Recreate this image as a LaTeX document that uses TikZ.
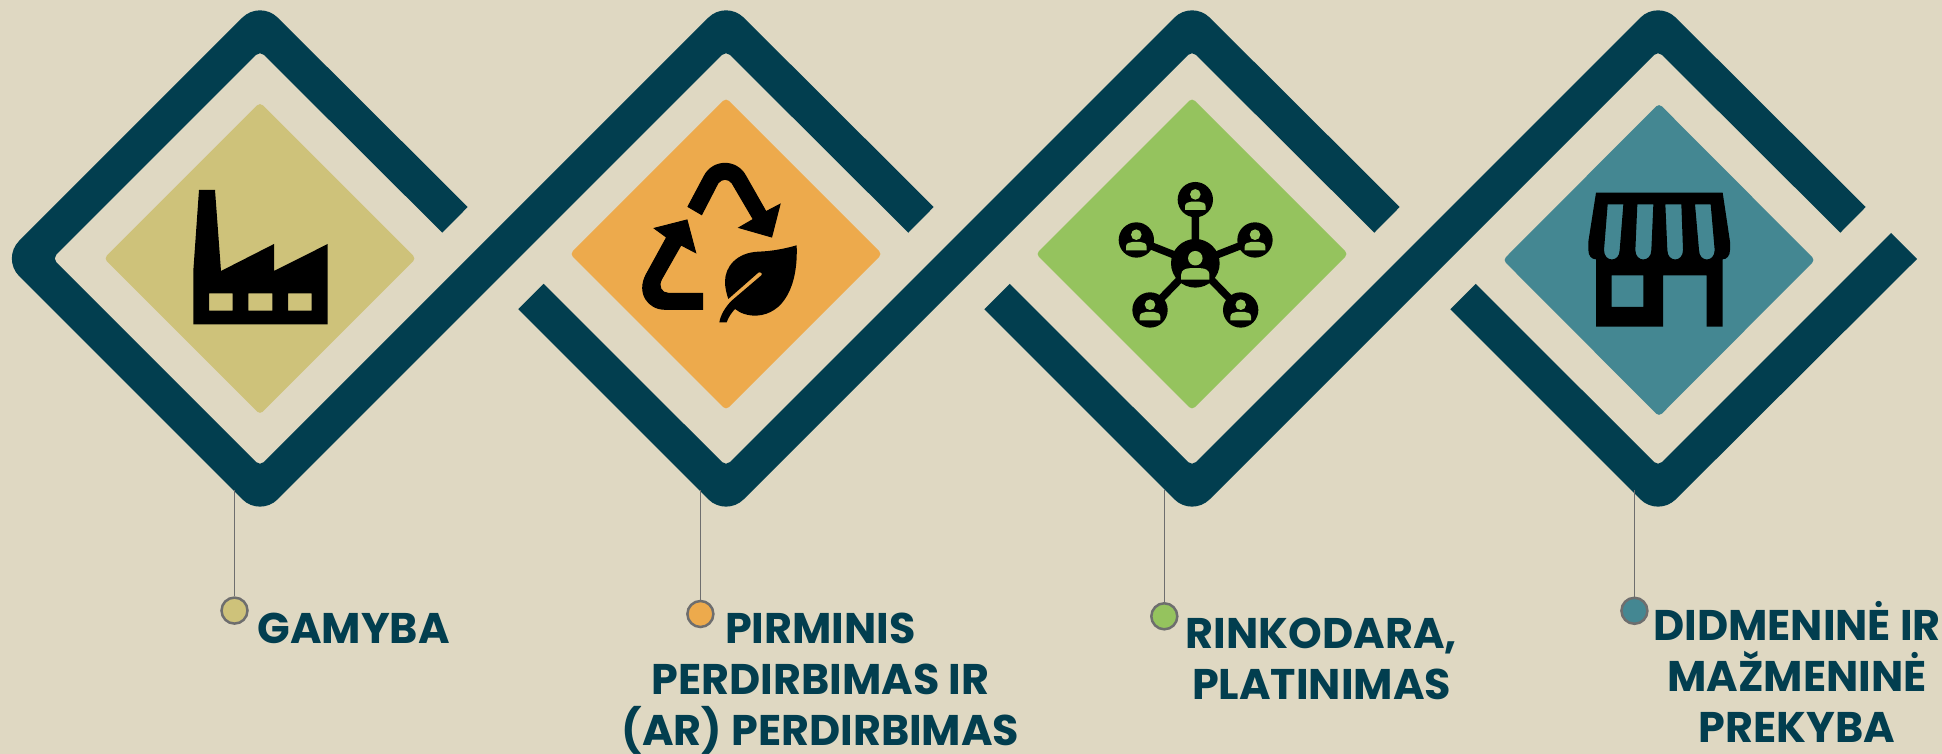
\documentclass[tikz,border=0pt]{standalone}
\usepackage{fontspec}
\setmainfont{Poppins}
\usepackage{tikz}
\usetikzlibrary{positioning}
\definecolor{sandbg}{HTML}{DFD8C2}
\definecolor{ribbonblue}{HTML}{023E4F}
\definecolor{cellolive}{HTML}{CEC27A}
\definecolor{cellorange}{HTML}{EDAA4C}
\definecolor{cellgreen}{HTML}{95C35E}
\definecolor{cellteal}{HTML}{448792}
\definecolor{leadgray}{HTML}{6E6E6E}
\tikzset{
	ribbon/.style={fill=ribbonblue},
	roundout/.style={rounded corners=2.5mm},
	roundin/.style={rounded corners=0.55mm},
	corecell/.style={rounded corners=0.4mm},
	leadline/.style={draw=leadgray, line width=0.14mm},
	leaddot/.style={circle, draw=leadgray, line width=0.25mm, minimum size=2.6mm, inner sep=0pt},
	steplabel/.style={align=center, text=ribbonblue, inner sep=0pt, anchor=north, font=\fontsize{12.2}{14.5}\selectfont\bfseries}
}
% Persona del icono de red
\newcommand{\netuser}[3]{
	\begin{scope}[shift={(#1,#2)},scale=#3]
		\fill[cellgreen] (0,-5.3) circle (5.3);
		\fill[cellgreen] (-10.3,10.3) -- (-10.3,6.5) .. controls (-10.3,3.5) and (-7,2) .. (-4,2) -- (4,2) .. controls (7,2) and (10.3,3.5) .. (10.3,6.5) -- (10.3,10.3) -- cycle;
	\end{scope}
}
\begin{document}
\begin{tikzpicture}[x=0.1mm,y=-0.1mm]
	\useasboundingbox (0,0) rectangle (1942,754);
	\fill[sandbg] (0,0) rectangle (1942,754);

	% Cintas
	\path[ribbon] (467.7,207) [roundout] -- (260,0) -- (1.5,258.5) -- (260,517) [roundin] -- (726,51) [sharp corners] -- (908.3,232.7) -- (933.7,207) [roundout] -- (726,0) [roundin] -- (260,466) -- (52.5,258.5) -- (260,51) [sharp corners] -- (442.3,232.7) -- cycle;
	\path[ribbon] (543.7,283.8) [roundin] -- (726,466) [roundout] -- (1192,0) [sharp corners] -- (1399.7,207) -- (1374.3,232.7) [roundin] -- (1192,51) [roundout] -- (726,517) [sharp corners] -- (518.3,309.2) -- cycle;
	\path[ribbon] (1009.7,283.8) [roundin] -- (1192,466) [roundout] -- (1658,0) [sharp corners] -- (1865.7,207) -- (1840.3,232.7) [roundin] -- (1658,51) [roundout] -- (1192,517) [sharp corners] -- (984.3,309.2) -- cycle;
	\path[ribbon] (1475.7,283.8) [roundin] -- (1658,466) [sharp corners] -- (1891,233) -- (1917,259) [roundout] -- (1658,517) [sharp corners] -- (1450.3,309.2) -- cycle;

	% Rombos
	\fill[cellolive, corecell] (260,102.5) -- (416,258.5) -- (260,414.5) -- (104,258.5) -- cycle;
	\fill[cellorange, corecell] (726,98) -- (882,254) -- (726,410) -- (570,254) -- cycle;
	\fill[cellgreen, corecell] (1192,98) -- (1348,254) -- (1192,410) -- (1036,254) -- cycle;
	\fill[cellteal, corecell] (1659,103.5) -- (1815,260) -- (1659,416.5) -- (1503,260) -- cycle;

	% Fabrica
	\fill[black, even odd rule] (199,190) -- (215,190) -- (221,271) -- (274,244) -- (274,271) -- (327.7,244) -- (327.7,324.5) -- (193.3,324.5) -- (193.3,271) -- cycle
		(209,293.3) rectangle (232.7,310.7) (248.3,293.3) rectangle (272.3,310.7) (288,293.3) rectangle (311.7,310.7);

	% Reciclaje
	\begin{scope}[shift={(600,130)},scale=0.3333]
		\filldraw[black, line width=0.1mm] (264,230) -- (314,136) .. controls (326,114) and (350,100) .. (375,100) .. controls (400,100) and (424,114) .. (436,136) -- (498,245) -- (540,223) -- (515,321) -- (417,293) -- (460,268) -- (396,159) .. controls (391,152) and (383,148) .. (375,148) .. controls (367,148) and (360,152) .. (354,159) -- (305,254) -- cycle;
		\filldraw[black, line width=0.1mm] (163,295) -- (261,270) -- (287,368) -- (243,345) -- (185,447) .. controls (172,470) and (185,490) .. (205,490) -- (308,490) -- (308,538) -- (195,538) .. controls (145,538) and (110,490) .. (138,435) -- (200,322) -- cycle;
		\fill[black] (590,346) .. controls (555,356) and (515,364) .. (475,365) .. controls (410,368) and (375,410) .. (375,455) .. controls (375,475) and (380,492) .. (385,507) -- (475,428) .. controls (482,424) and (490,432) .. (483,437) -- (395,512) .. controls (375,532) and (362,555) .. (358,577) -- (380,577) .. controls (385,562) and (395,548) .. (405,537) .. controls (420,550) and (445,558) .. (470,557) .. controls (550,552) and (595,470) .. (590,346) -- cycle;
	\end{scope}

	% Red
	\begin{scope}[shift={(1090,160)},scale=0.3333]
		\draw[black, line width=0.75mm] (316,119) -- (316,310) (139,240) -- (316,310) (495,240) -- (316,310) (180,450) -- (316,310) (452,450) -- (316,310);
		\fill[black] (316,310) circle (73) (316,119) circle (53) (139,240) circle (53) (495,240) circle (53) (180,450) circle (53) (452,450) circle (53);
	\end{scope}
	\netuser{1195.3}{199.7}{1}
	\netuser{1136.3}{240}{1}
	\netuser{1255}{240}{1}
	\netuser{1150}{310}{1}
	\netuser{1240.7}{310}{1}
	\netuser{1195.3}{265.5}{1.37}

	% Tienda
	\begin{scope}[shift={(1560,170)},scale=0.3333]
		\fill[black, even odd rule] (108,68) -- (488,68) -- (510,215) -- (510,240) .. controls (510,258) and (500,268) .. (488,268) -- (488,470) -- (440,470) -- (440,316) -- (309,316) -- (309,470) -- (108,470) -- (108,268) .. controls (95,268) and (85,258) .. (85,240) -- (85,215) -- cycle
			(155,316) rectangle (250,411)
			(143,103) -- (190,103) -- (179,240) .. controls (179,278) and (132,278) .. (132,240) -- cycle
			(232,103) -- (280,103) -- (274,240) .. controls (274,278) and (226,278) .. (226,240) -- cycle
			(316,103) -- (364,103) -- (369,240) .. controls (369,278) and (322,278) .. (322,240) -- cycle
			(405,103) -- (452,103) -- (464,240) .. controls (464,278) and (417,278) .. (417,240) -- cycle;
	\end{scope}

	% Puntos y lineas
	\coordinate (tie1) at (234.5,490);
	\coordinate (tie2) at (700.4,490);
	\coordinate (tie3) at (1164.3,490);
	\coordinate (tie4) at (1634.4,490);
	\node[leaddot, fill=cellolive] (dot1) at (234.5,610.6) {};
	\node[leaddot, fill=cellorange] (dot2) at (700.4,614) {};
	\node[leaddot, fill=cellgreen] (dot3) at (1164.3,616.3) {};
	\node[leaddot, fill=cellteal] (dot4) at (1634.4,610.8) {};
	\draw[leadline] (tie1) -- (dot1);
	\draw[leadline] (tie2) -- (dot2);
	\draw[leadline] (tie3) -- (dot3);
	\draw[leadline] (tie4) -- (dot4);

	% Textos
	\node[steplabel] (lab1) at (353.5,612) {GAMYBA};
	\node[steplabel] (lab2) at (820.5,612) {PIRMINIS\\PERDIRBIMAS IR\\(AR) PERDIRBIMAS};
	\node[steplabel] (lab3) at (1321.5,617) {RINKODARA,\\PLATINIMAS};
	\node[steplabel] (lab4) at (1797,601) {DIDMENINĖ IR\\MAŽMENINĖ\\PREKYBA};
\end{tikzpicture}
\end{document}
